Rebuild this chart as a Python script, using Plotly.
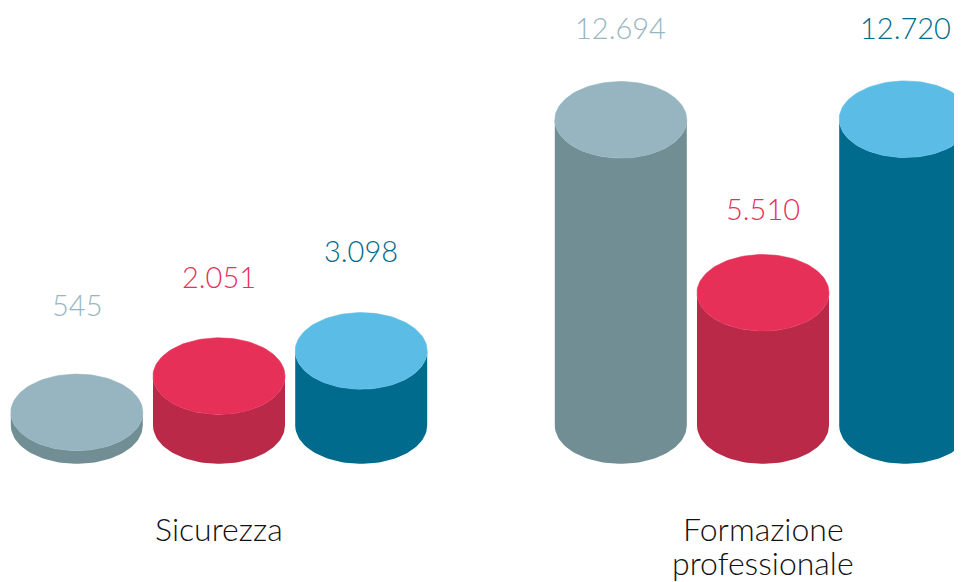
import numpy as np
import plotly.graph_objects as go

# ---------------- data ----------------
categories = ["Sicurezza", "Formazione<br>professionale"]
series_names = ["Serie A", "Serie B", "Serie C"]
values_serie_a = [545, 12694]
values_serie_b = [2051, 5510]
values_serie_c = [3098, 12720]
value_labels_a = ["545", "12.694"]
value_labels_b = ["2.051", "5.510"]
value_labels_c = ["3.098", "12.720"]

# ---------------- style / layout ----------------
W, H = 962, 582
PAGE_OFFSET = 8          # default body margin of the html page
BASE_PX = 425.5          # pixel row of the value 0 (bottom ellipse centre)
PX_PER_UNIT = 0.02408    # vertical pixels per unit of value
Y_MAX = (BASE_PX - PAGE_OFFSET) / PX_PER_UNIT
Y_MIN = -(H + PAGE_OFFSET - BASE_PX) / PX_PER_UNIT

group_centers = [219, 763]
bar_spacing = 142.2
RX = 66.0                     # ellipse half-width (x units)
RY = 38.3 / PX_PER_UNIT       # ellipse half-height (value units)

side_colors = ["#718e94", "#ba2a48", "#006b8c"]
top_colors = ["#96b5c0", "#e63058", "#5bbde6"]
label_colors = ["#97b6c1", "#e63058", "#006b8c"]
# gap in pixels between top-ellipse centre and value label centre
label_gap_px = [[107.5, 92.5], [100, 84.3], [100.7, 91.7]]

FONT = "Lato, 'Open Sans', sans-serif"

all_values = [values_serie_a, values_serie_b, values_serie_c]
all_labels = [value_labels_a, value_labels_b, value_labels_c]

fig = go.Figure()
t = np.linspace(0, np.pi, 60)

annotations = []
for s in range(3):
    for g in range(len(categories)):
        v = all_values[s][g]
        cx = group_centers[g] + (s - 1) * bar_spacing
        front_x = cx - RX * np.cos(t)           # left -> right
        front_dy = -RY * np.sin(t)              # lower half
        xs = np.concatenate([[cx - RX, cx - RX], front_x, [cx + RX], front_x[::-1]])
        ys = np.concatenate([[0, v], v + front_dy, [0], 0 + front_dy[::-1]])
        fig.add_trace(go.Scatter(x=xs, y=ys, mode="lines", fill="toself",
                                 fillcolor=side_colors[s], line=dict(width=0),
                                 hoverinfo="skip", showlegend=False))
        tt = np.linspace(0, 2 * np.pi, 120)
        fig.add_trace(go.Scatter(x=cx + RX * np.cos(tt), y=v + RY * np.sin(tt),
                                 mode="lines", fill="toself", fillcolor=top_colors[s],
                                 line=dict(width=0.6, color=top_colors[s]),
                                 hoverinfo="skip", showlegend=False))
        annotations.append(dict(
            x=cx, y=v + label_gap_px[s][g] / PX_PER_UNIT, xref="x", yref="y",
            text=all_labels[s][g], showarrow=False, xanchor="center", yanchor="middle",
            font=dict(family=FONT, size=29, color=label_colors[s], weight=300)))

# category labels, one annotation per line for tight line spacing
for g, cat in enumerate(categories):
    for li, line in enumerate(cat.split("<br>")):
        annotations.append(dict(
            x=group_centers[g], y=-(103 + li * 34) / PX_PER_UNIT, xref="x", yref="y",
            text=line, showarrow=False, xanchor="center", yanchor="middle",
            font=dict(family=FONT, size=32, color="#111111", weight=300)))

fig.update_layout(
    width=W, height=H,
    margin=dict(l=0, r=0, t=0, b=0),
    paper_bgcolor="white", plot_bgcolor="white",
    xaxis=dict(range=[PAGE_OFFSET, W + PAGE_OFFSET], visible=False, fixedrange=True),
    yaxis=dict(range=[Y_MIN, Y_MAX], visible=False, fixedrange=True),
    annotations=annotations,
    showlegend=False,
)

fig.write_html("out.html")
